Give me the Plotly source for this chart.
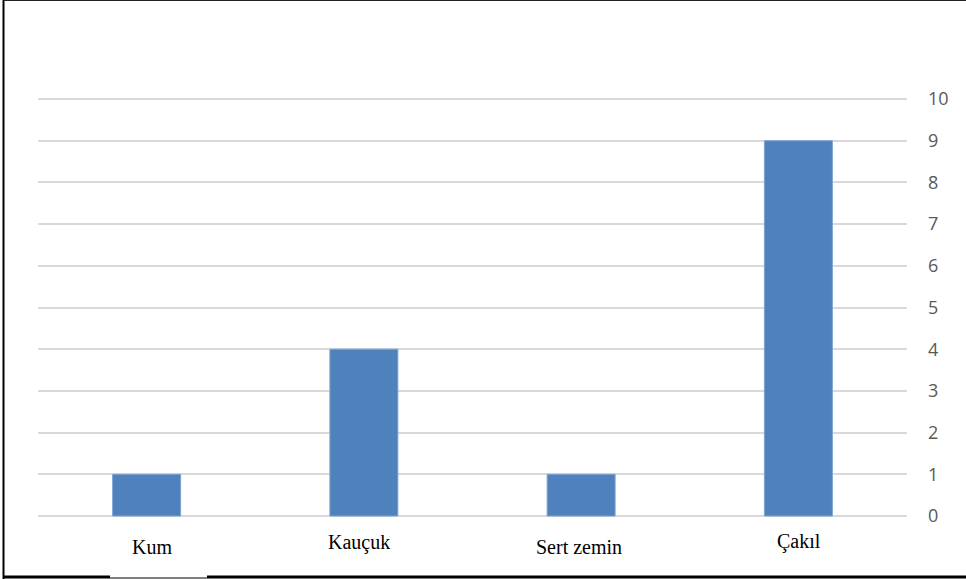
import plotly.graph_objects as go

# Survey counts per surface type
categories = ["Kum", "Kauçuk", "Sert zemin", "Çakıl"]
counts = [1, 4, 1, 9]
y_ticks = list(range(0, 11))

# small per-label nudges (px) for the category captions
label_dx = [5, -5, -2, 1]
label_dy = [-31, -26, -31, -25]

W, H = 966, 579
ML, MR, MT, MB = 38, 59, 96, 60
PW, PH = W - ML - MR, H - MT - MB

# pad the value range a little so the 0 and 10 gridlines are not clipped
unit_px = 41.7
pad = 3 / unit_px

fig = go.Figure(
    go.Bar(
        x=categories,
        y=counts,
        marker=dict(color="#4F81BD", line=dict(color="#7FA3D3", width=1)),
        width=0.313,
        hoverinfo="x+y",
    )
)

for cat, dx, dy in zip(categories, label_dx, label_dy):
    fig.add_annotation(
        x=cat, y=0, xref="x", yref="y",
        text=cat, showarrow=False,
        xshift=dx, yshift=dy, yanchor="middle",
        font=dict(family="Liberation Serif, Times New Roman, serif", size=20, color="#000000"),
    )

# frame lines (left, top, bottom) in pixel terms
def px_x(px):
    return (px - ML) / PW

def px_y(py):
    return (H - MB - py) / PH

def frame_line(x0, y0, x1, y1, width, color="#000000"):
    fig.add_shape(
        type="line", xref="paper", yref="paper",
        x0=px_x(x0), x1=px_x(x1), y0=px_y(y0), y1=px_y(y1),
        line=dict(color=color, width=width), layer="above",
    )

frame_line(3.5, 0, 3.5, 579, 2)
frame_line(3, 0.5, 966, 0.5, 1.2, "#222222")
frame_line(3, 577, 110, 577, 3)
frame_line(110, 578, 207, 578, 1)
frame_line(207, 577, 966, 577, 3)

fig.update_layout(
    width=W, height=H,
    margin=dict(l=ML, r=MR, t=MT, b=MB, pad=0),
    paper_bgcolor="#FFFFFF",
    plot_bgcolor="#FFFFFF",
    showlegend=False,
    xaxis=dict(
        type="category",
        showticklabels=False,
        showgrid=False,
        zeroline=False,
        showline=False,
        ticks="",
        range=[-0.5, 3.5],
    ),
    yaxis=dict(
        side="right",
        range=[-pad, 10 + pad],
        tickvals=y_ticks,
        ticktext=[str(v) for v in y_ticks],
        showgrid=True,
        gridcolor="#D9D9D9",
        gridwidth=1.5,
        zeroline=False,
        showline=False,
        ticks="",
        ticklabelstandoff=20,
        tickfont=dict(family="Open Sans, Calibri, sans-serif", size=18, color="#595959"),
    ),
)

fig.write_html("out.html")
